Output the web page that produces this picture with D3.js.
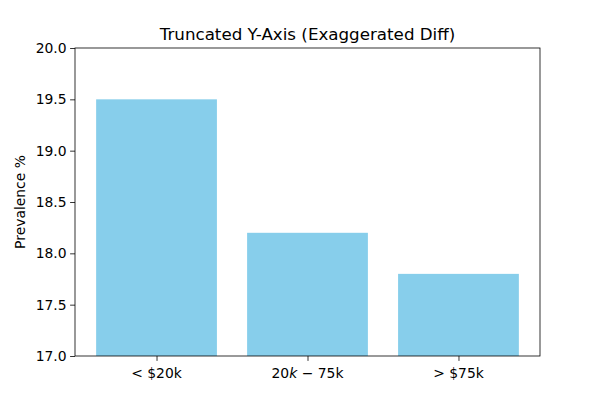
<!DOCTYPE html>
<html><head><meta charset="utf-8">
<script src="https://cdn.jsdelivr.net/npm/d3@7"></script>
<style>body{margin:0;background:#fff}text{font-family:"DejaVu Sans",sans-serif}</style>
</head><body>
<script>
const categories = ["< $20k", "$20k-$75k", "> $75k"];
const values = [19.5, 18.2, 17.8];
const yTicks = [17.0, 17.5, 18.0, 18.5, 19.0, 19.5, 20.0];

const W = 600, H = 400;
const m = {l: 75, r: 60, t: 48, b: 44};
const svg = d3.select("body").append("svg").attr("width", W).attr("height", H);
const x = d3.scaleLinear().domain([-0.54, 2.54]).range([m.l, W - m.r]);
const y = d3.scaleLinear().domain([17, 20]).range([H - m.b, m.t]);

svg.selectAll("rect.bar").data(values).join("rect").attr("class", "bar")
  .attr("x", (d, i) => x(i - 0.4)).attr("width", x(0.8) - x(0))
  .attr("y", d => y(d)).attr("height", d => y(17) - y(d))
  .attr("fill", "#87ceeb");

const yAxis = d3.axisLeft(y).tickValues(yTicks).tickFormat(d3.format(".1f")).tickSize(4.9).tickPadding(3.5);
const gy = svg.append("g").attr("transform", `translate(${m.l},0)`).call(yAxis);
const xAxis = d3.axisBottom(x).tickValues([0, 1, 2]).tickFormat("").tickSize(4.9);
const gx = svg.append("g").attr("transform", `translate(0,${H - m.b})`).call(xAxis);
[gy, gx].forEach(g => {
  g.select(".domain").remove();
  g.selectAll("line").attr("stroke", "#000").attr("stroke-width", 0.8);
  g.selectAll("text").attr("font-size", 13.9).attr("font-family", "DejaVu Sans").attr("fill", "#000");
});

// x tick labels (matplotlib mathtext between the two $ signs)
categories.forEach((c, i) => {
  const t = svg.append("text").attr("x", x(i)).attr("y", H - m.b + 22)
    .attr("text-anchor", "middle").attr("font-size", 13.9).attr("fill", "#000");
  const dollars = (c.match(/\$/g) || []).length;
  if (dollars >= 2) {
    const s = c.indexOf("$"), e = c.indexOf("$", s + 1);
    const math = c.slice(s + 1, e), rest = c.slice(e + 1);
    const mm = math.match(/^(\d+)(k)-$/);
    t.append("tspan").text(mm[1]);
    t.append("tspan").attr("font-style", "italic").text(mm[2]);
    t.append("tspan").text(" \u2212 ");
    t.append("tspan").text(rest);
  } else {
    t.text(c);
  }
});

svg.append("rect").attr("x", m.l).attr("y", m.t).attr("width", W - m.l - m.r).attr("height", H - m.t - m.b)
  .attr("fill", "none").attr("stroke", "#000").attr("stroke-width", 0.8);

svg.append("text").attr("x", (m.l + W - m.r) / 2).attr("y", m.t - 8).attr("text-anchor", "middle")
  .attr("font-size", 16.7).attr("fill", "#000").text("Truncated Y-Axis (Exaggerated Diff)");
svg.append("text").attr("transform", `translate(25,${(m.t + H - m.b) / 2}) rotate(-90)`)
  .attr("text-anchor", "middle").attr("font-size", 13.9).attr("fill", "#000").text("Prevalence %");
</script>
</body></html>
